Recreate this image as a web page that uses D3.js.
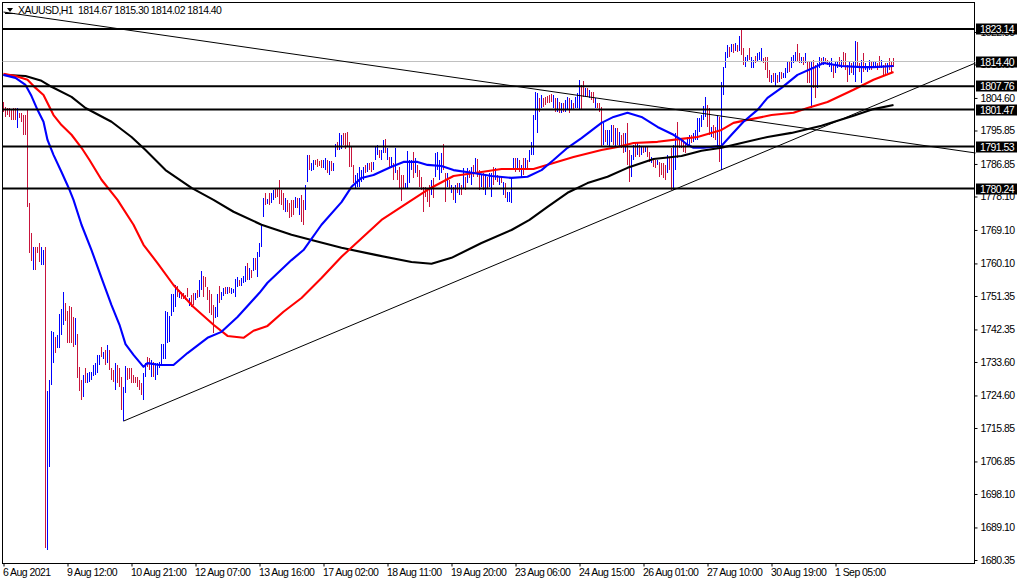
<!DOCTYPE html>
<html>
<head>
<meta charset="utf-8">
<title>XAUUSD,H1</title>
<script src="https://cdnjs.cloudflare.com/ajax/libs/d3/7.8.5/d3.min.js"></script>
<style>
  html, body { margin: 0; padding: 0; background: #fff; }
  svg { display: block; }
  text { font-family: "Liberation Sans", Arial, sans-serif; font-size: 10.5px; letter-spacing: -0.55px; }
</style>
</head>
<body>
<div id="chart"></div>
<script>
const title = 'XAUUSD,H1  1814.67 1815.30 1814.02 1814.40';

const barHighs = [
  1803.5,1802.2,1801.9,1801.9,1801.4,1801.9,1801.9,1801.9,1800.6,1800.6,
  1800.0,1800.0,1801.4,1776.4,1768.3,1764.5,1764.5,1764.5,1765.6,1764.5,
  1763.7,1764.5,1725.8,1728.8,1742.0,1741.7,1740.3,1740.9,1746.5,1747.9,
  1752.4,1749.5,1747.3,1748.7,1748.4,1745.7,1745.5,1741.1,1732.3,1728.8,
  1730.1,1732.0,1730.7,1731.0,1731.0,1732.8,1733.4,1735.5,1735.5,1737.6,
  1736.3,1736.8,1738.2,1736.8,1732.0,1731.5,1733.4,1732.8,1732.0,1729.6,
  1726.9,1732.5,1732.0,1732.0,1732.0,1730.1,1729.6,1729.6,1728.8,1728.0,
  1730.7,1733.4,1735.0,1734.7,1734.1,1733.6,1733.4,1733.4,1733.6,1738.4,
  1738.4,1747.3,1747.1,1746.0,1751.9,1751.9,1754.3,1754.0,1753.0,1752.4,
  1752.2,1751.6,1753.5,1750.8,1751.6,1752.2,1752.2,1753.0,1755.7,1758.1,
  1756.8,1756.5,1753.8,1753.0,1751.9,1749.0,1748.4,1751.9,1754.0,1752.4,
  1753.5,1753.8,1753.8,1753.8,1753.5,1753.2,1755.9,1756.5,1755.7,1756.2,
  1756.8,1759.4,1760.2,1758.9,1758.4,1761.6,1761.6,1763.2,1765.6,1770.5,
  1777.7,1779.1,1777.5,1779.1,1779.1,1779.9,1780.4,1780.4,1782.6,1779.9,
  1779.1,1777.7,1777.2,1776.4,1777.2,1777.2,1778.0,1777.7,1777.7,1778.6,
  1777.2,1781.2,1789.3,1789.3,1787.1,1787.9,1787.9,1788.2,1787.7,1787.9,
  1787.9,1788.5,1787.9,1787.7,1787.7,1787.1,1792.2,1792.8,1795.2,1794.7,
  1795.2,1795.2,1795.5,1792.8,1791.4,1786.6,1783.9,1784.4,1786.1,1785.2,
  1786.1,1786.6,1787.1,1787.1,1787.4,1787.4,1791.4,1792.0,1790.6,1790.6,
  1793.3,1793.6,1791.2,1788.7,1788.7,1787.1,1791.2,1785.2,1786.1,1783.9,
  1783.9,1781.8,1790.4,1787.9,1787.9,1790.1,1788.5,1786.6,1785.2,1783.4,
  1780.7,1780.7,1780.4,1781.2,1782.6,1783.1,1789.8,1790.1,1787.9,1789.8,
  1792.2,1784.4,1784.4,1782.6,1781.2,1780.7,1781.2,1781.8,1781.8,1781.2,
  1785.8,1783.4,1785.8,1785.2,1786.1,1786.6,1788.5,1788.2,1785.2,1783.9,
  1784.4,1783.9,1783.4,1784.4,1784.4,1786.1,1785.8,1783.9,1783.4,1783.4,
  1782.0,1781.8,1779.3,1779.3,1783.4,1788.5,1788.5,1788.5,1787.9,1786.6,
  1788.5,1788.5,1787.9,1790.6,1792.8,1800.0,1806.2,1806.0,1804.6,1805.4,
  1804.6,1804.9,1805.1,1805.4,1805.7,1805.4,1804.6,1804.6,1803.5,1803.3,
  1803.3,1804.1,1804.9,1804.6,1804.1,1803.3,1804.9,1806.0,1809.5,1808.1,
  1809.2,1807.3,1807.3,1806.8,1806.2,1806.2,1804.6,1803.3,1803.3,1802.2,
  1797.9,1796.0,1796.0,1796.0,1797.4,1797.4,1796.5,1796.5,1795.5,1794.7,
  1795.2,1795.2,1797.9,1790.6,1789.3,1792.0,1792.8,1792.5,1792.0,1791.4,
  1791.4,1791.4,1791.4,1790.1,1788.7,1788.5,1787.9,1787.9,1787.4,1787.1,
  1787.1,1786.6,1789.3,1788.5,1791.2,1792.0,1795.2,1798.2,1793.9,1793.9,
  1793.3,1792.8,1794.1,1794.7,1794.7,1795.2,1796.0,1799.2,1799.2,1800.0,
  1802.5,1804.9,1802.7,1801.9,1796.8,1797.4,1796.8,1800.0,1799.5,1808.9,
  1813.0,1817.0,1818.9,1818.3,1819.1,1819.1,1819.4,1818.9,1821.3,1822.9,
  1818.1,1815.6,1816.2,1818.1,1815.6,1814.8,1815.9,1816.7,1817.0,1818.1,
  1815.4,1815.6,1815.6,1812.1,1810.8,1811.3,1811.3,1810.8,1811.6,1811.6,
  1811.3,1812.7,1814.3,1814.3,1815.6,1816.2,1817.0,1819.1,1816.7,1815.6,
  1815.6,1816.7,1814.6,1814.3,1814.3,1814.8,1813.5,1814.0,1815.6,1815.4,
  1815.6,1815.4,1814.8,1814.3,1815.4,1813.5,1814.3,1814.3,1815.6,1814.8,
  1817.0,1816.7,1813.5,1814.3,1814.0,1814.3,1820.0,1819.7,1814.0,1814.8,
  1816.7,1814.0,1813.0,1814.8,1814.3,1814.3,1814.3,1814.0,1815.9,1814.8,
  1813.5,1814.0,1814.0,1815.4,1814.3,1815.4
];

const barLows = [
  1800.9,1799.5,1800.0,1799.5,1798.7,1798.7,1798.7,1796.5,1799.2,1798.2,
  1794.7,1794.7,1775.3,1762.9,1760.8,1758.4,1758.4,1762.9,1760.5,1759.7,
  1759.7,1683.6,1683.0,1705.4,1727.4,1733.4,1736.0,1737.4,1737.4,1740.9,
  1743.6,1744.6,1738.7,1738.7,1738.7,1737.6,1738.2,1729.3,1725.8,1723.4,
  1724.2,1728.0,1728.0,1728.2,1728.8,1729.9,1730.1,1730.7,1732.8,1735.0,
  1734.4,1732.8,1733.4,1731.5,1728.8,1728.2,1726.1,1728.0,1726.9,1720.7,
  1717.7,1725.3,1728.8,1729.0,1728.0,1728.0,1728.0,1726.9,1726.1,1724.7,
  1723.4,1729.6,1732.3,1731.5,1729.6,1729.6,1728.8,1730.1,1732.0,1732.8,
  1734.4,1734.4,1738.7,1739.0,1746.0,1747.1,1748.4,1751.1,1750.8,1750.6,
  1750.6,1750.3,1751.1,1748.7,1748.4,1749.0,1750.3,1750.8,1751.1,1753.0,
  1751.1,1753.8,1750.3,1746.8,1746.3,1741.4,1745.5,1745.7,1749.5,1750.3,
  1751.4,1751.9,1751.9,1752.2,1751.9,1752.2,1751.1,1753.8,1754.0,1754.0,
  1754.9,1755.1,1755.7,1755.7,1756.2,1758.1,1758.4,1756.5,1761.9,1764.5,
  1772.6,1775.8,1776.1,1775.8,1776.4,1777.2,1777.7,1778.0,1776.1,1775.8,
  1774.5,1774.0,1774.0,1772.3,1772.6,1773.2,1775.0,1775.0,1773.2,1771.3,
  1770.5,1774.5,1782.0,1785.2,1785.0,1785.2,1786.6,1786.1,1786.3,1785.8,
  1785.8,1785.2,1784.4,1783.9,1785.0,1785.0,1788.7,1790.6,1790.6,1790.9,
  1792.0,1790.9,1791.4,1786.1,1786.1,1781.8,1780.4,1780.7,1780.7,1782.0,
  1782.6,1784.4,1784.7,1785.2,1784.7,1785.2,1787.9,1789.3,1788.5,1787.9,
  1789.8,1789.8,1787.9,1786.1,1785.8,1782.6,1784.4,1782.6,1780.4,1777.0,
  1780.4,1780.4,1780.4,1781.8,1785.2,1783.1,1784.4,1783.4,1780.7,1779.9,
  1774.0,1778.0,1776.6,1775.3,1778.6,1777.7,1783.4,1785.2,1782.6,1784.4,
  1785.2,1776.6,1780.7,1780.4,1779.1,1777.2,1776.4,1779.1,1778.6,1778.6,
  1780.4,1779.9,1781.8,1783.1,1781.2,1783.4,1784.4,1783.4,1779.9,1780.7,
  1779.9,1778.6,1780.4,1780.7,1778.0,1781.2,1782.6,1782.0,1781.2,1781.8,
  1778.6,1777.7,1776.6,1776.6,1776.4,1785.2,1784.7,1785.2,1784.7,1783.4,
  1783.9,1785.2,1785.2,1787.4,1789.3,1789.3,1798.7,1795.2,1800.9,1801.9,
  1802.2,1802.7,1803.3,1803.3,1803.5,1801.9,1800.9,1800.9,1800.6,1800.6,
  1800.9,1800.9,1801.4,1800.6,1801.4,1801.4,1801.9,1801.9,1801.4,1801.4,
  1804.9,1804.9,1804.9,1804.6,1804.1,1803.3,1801.9,1801.9,1800.9,1791.4,
  1792.0,1792.8,1792.0,1791.4,1792.8,1792.0,1791.4,1792.0,1791.4,1791.2,
  1789.8,1790.1,1786.6,1782.0,1783.4,1787.9,1788.7,1789.3,1788.7,1789.3,
  1789.8,1790.1,1788.7,1787.4,1787.1,1786.1,1785.8,1786.6,1783.4,1783.9,
  1783.1,1782.6,1784.4,1785.2,1779.9,1779.9,1785.2,1788.5,1791.2,1791.2,
  1790.1,1789.8,1791.4,1792.0,1792.5,1792.8,1793.3,1793.3,1795.5,1796.8,
  1798.7,1799.5,1796.8,1794.7,1794.1,1793.9,1793.3,1791.2,1787.4,1785.2,
  1805.4,1812.7,1815.4,1815.6,1817.0,1816.7,1817.3,1817.0,1817.3,1816.2,
  1813.5,1813.0,1814.3,1814.8,1812.7,1812.7,1814.0,1814.3,1814.8,1814.3,
  1814.0,1812.1,1810.0,1808.9,1808.6,1808.9,1807.6,1808.6,1808.9,1809.7,
  1810.0,1810.0,1811.3,1811.6,1812.7,1814.0,1814.3,1814.3,1814.0,1814.0,
  1813.5,1814.0,1808.6,1808.6,1801.9,1807.3,1804.6,1807.3,1812.7,1813.5,
  1813.5,1814.0,1813.5,1813.0,1811.6,1810.0,1811.3,1812.7,1813.0,1812.7,
  1813.0,1812.1,1808.9,1810.8,1811.3,1810.8,1808.9,1812.7,1811.6,1808.6,
  1811.6,1812.1,1811.6,1812.1,1812.1,1812.7,1813.0,1812.1,1812.7,1812.7,
  1810.8,1810.8,1811.3,1812.1,1811.6,1813.0
];

// u = up bar, d = down bar
const barDirs = [
  'dddddddudd','dddddudddu','uduuuuduuu','uddddduddd','uduuuuuuud',
  'ududdduddd','uudddddddd','uudduduuuu','uuuuuuudud','dddudduduu',
  'dddddduudu','ududuuuudu','uudududuuu','ududuudddd','duddddudud',
  'duuduudddd','uududuuduu','dddddduuuu','ududduuudu','ududududdd',
  'duuuududdd','dddduduuuu','ddudududud','ududududdu','duduududud',
  'uduuuududu','duduuuuudu','dddddududu','duududuuud','dududduddd',
  'uduuududud','dudduududu','dudduddudd','ddudduuddd','dduuduuuuu',
  'uudduddudu','uuudududud','duuduuduuu','ddddududud','uuuduuuddu',
  'duddudduud','udduuduudu','ddduduuddu','duuuduuddu','dduddd'
].join('');

const fastBars = [0,6,11,14,17,20,22,25,29,33,35,39,44,49,54,58,61,65,70,72,78,85,92,102,109,117,128,132,144,150,159,169,174,179,185,194,200,207,212,219,225,235,244,254,262,269,275,282,289,299,305,312,319,327,335,339,342,345,350,359,364,370,377,382,389,397,405,410,419,429,435,445];
const fastMa = [1810.8,1810.0,1808.1,1805.1,1801.4,1798.2,1793.3,1789.3,1784.7,1779.9,1777.2,1770.5,1763.7,1756.2,1748.9,1743.6,1738.4,1735.5,1732.3,1733.3,1732.8,1732.8,1736.0,1740.1,1741.7,1745.7,1752.2,1754.9,1761.0,1763.7,1770.5,1776.6,1780.7,1783.1,1783.9,1786.1,1787.4,1787.4,1786.6,1786.3,1785.2,1784.4,1783.6,1783.1,1783.4,1785.2,1787.9,1791.2,1793.8,1797.9,1799.5,1800.6,1799.5,1796.8,1794.7,1793.3,1792.0,1791.2,1791.2,1791.7,1794.7,1798.2,1801.4,1804.6,1807.3,1810.8,1812.7,1814.0,1813.2,1812.9,1812.9,1813.2];

const midBars = [0,6,12,16,20,25,29,34,39,43,49,57,65,70,77,85,95,105,112,120,125,132,140,149,159,169,189,202,212,225,239,249,265,275,285,299,307,315,327,339,347,359,365,372,384,395,402,412,425,435,445];
const midMa = [1811.1,1810.5,1809.5,1807.3,1805.4,1800.0,1797.3,1794.7,1791.2,1787.9,1782.6,1777.2,1770.5,1765.1,1760.2,1754.3,1748.4,1743.6,1740.6,1740.1,1742.0,1743.3,1747.1,1750.8,1756.2,1761.9,1771.8,1776.4,1779.9,1783.6,1784.7,1785.5,1785.5,1787.1,1788.7,1790.6,1791.4,1792.5,1792.8,1793.6,1794.1,1796.0,1797.9,1798.7,1800.0,1800.6,1801.9,1803.5,1806.8,1809.5,1811.6];

const slowBars = [0,11,19,24,34,41,54,64,71,81,94,105,115,129,144,154,169,186,204,214,224,239,254,263,272,282,292,302,312,325,339,349,359,369,382,394,409,425,435,445];
const slowMa = [1810.8,1810.5,1809.2,1807.6,1804.9,1801.9,1798.2,1794.1,1790.6,1785.2,1780.4,1777.2,1774.0,1770.5,1767.8,1766.4,1764.3,1762.4,1760.5,1760.0,1761.6,1765.6,1769.1,1771.8,1775.3,1779.1,1781.7,1783.4,1785.8,1788.2,1789.0,1790.4,1791.2,1792.5,1794.1,1795.2,1797.1,1799.8,1801.6,1802.7];

const levels = [1823.14, 1807.76, 1801.47, 1791.53, 1780.24];
const bidPrice = 1814.40;
const priceTicks = [1680.35,1689.10,1698.10,1706.85,1715.85,1724.60,1733.60,1742.35,1751.35,1760.10,1769.10,1778.10,1786.85,1795.85,1804.60,1813.60,1822.35];

const timeTickBars = [0,32,64,96,128,160,192,224,256,288,320,352,384,416];
const timeLabels = ['6 Aug 2021','9 Aug 12:00','10 Aug 21:00','12 Aug 07:00','13 Aug 16:00','17 Aug 02:00','18 Aug 11:00','19 Aug 20:00','23 Aug 06:00','24 Aug 15:00','26 Aug 01:00','27 Aug 10:00','30 Aug 19:00','1 Sep 05:00'];

// trend lines, end points as [bar, price]
const fallingTrend = [[0, 1827.7], [486, 1789.8]];
const risingTrend = [[60, 1717.7], [486, 1814.0]];

const width = 1020;
const height = 584;
const frame = { left: 2.5, right: 974.5, top: 2.5, bottom: 563.5 };

const x = d3.scaleLinear().domain([0, 486]).range([3.5, 975.5]);
const y = d3.scaleLinear().domain([1680.35, 1823.14]).range([560, 29]);

const svg = d3.select('#chart').append('svg')
  .attr('width', width)
  .attr('height', height);

svg.append('rect')
  .attr('x', frame.left).attr('y', frame.top)
  .attr('width', frame.right - frame.left)
  .attr('height', frame.bottom - frame.top)
  .attr('fill', '#fff')
  .attr('stroke', '#000');

// price bars
svg.append('g').attr('shape-rendering', 'crispEdges')
  .selectAll('line')
  .data(barHighs)
  .enter()
  .append('line')
  .attr('x1', (d, i) => x(i))
  .attr('x2', (d, i) => x(i))
  .attr('y1', (d) => y(d))
  .attr('y2', (d, i) => y(barLows[i]))
  .attr('stroke', (d, i) => barDirs[i] === 'u' ? '#0000ff' : '#c8143c');

// silver bid line under everything else
svg.append('line')
  .attr('x1', frame.left).attr('x2', frame.right)
  .attr('y1', y(bidPrice)).attr('y2', y(bidPrice))
  .attr('stroke', '#c0c0c0');

const maLine = d3.line();
const drawMa = (bars, values, color) => {
  svg.append('path')
    .attr('d', maLine(bars.map((b, i) => [x(b), y(values[i])])))
    .attr('fill', 'none')
    .attr('stroke', color)
    .attr('stroke-width', 2.1)
    .attr('stroke-linejoin', 'round');
};
drawMa(slowBars, slowMa, '#000');
drawMa(midBars, midMa, '#ff0000');
drawMa(fastBars, fastMa, '#0000ff');

[fallingTrend, risingTrend].forEach((t) => {
  svg.append('path')
    .attr('d', maLine(t.map((p) => [x(p[0]), y(p[1])])))
    .attr('fill', 'none')
    .attr('stroke', '#000')
    .attr('stroke-width', 1);
});

svg.append('g').selectAll('line')
  .data(levels)
  .enter()
  .append('line')
  .attr('x1', frame.left).attr('x2', frame.right)
  .attr('y1', (d) => y(d)).attr('y2', (d) => y(d))
  .attr('stroke', '#000')
  .attr('stroke-width', 2);

// axes
const yAxis = d3.axisRight(y)
  .tickValues(priceTicks)
  .tickSize(3)
  .tickPadding(3)
  .tickFormat(d3.format('.2f'));

const yG = svg.append('g')
  .attr('transform', 'translate(' + frame.right + ',0)')
  .call(yAxis);
yG.select('.domain').remove();
yG.attr('font-family', null).attr('font-size', null);
yG.selectAll('text').attr('fill', '#000');

const xAxis = d3.axisBottom(x)
  .tickValues(timeTickBars)
  .tickSize(3)
  .tickPadding(2)
  .tickFormat((d, i) => timeLabels[i]);

const xG = svg.append('g')
  .attr('transform', 'translate(0,' + frame.bottom + ')')
  .call(xAxis);
xG.select('.domain').remove();
xG.attr('font-family', null).attr('font-size', null);
xG.selectAll('text').attr('text-anchor', 'start').attr('dx', -1).attr('fill', '#000');

// price tags on the right
const tags = svg.append('g').selectAll('g')
  .data(levels.concat([bidPrice]))
  .enter()
  .append('g')
  .attr('transform', (d) => 'translate(976,' + Math.round(y(d)) + ')');
tags.append('rect')
  .attr('x', 0).attr('y', -5.5)
  .attr('width', 41).attr('height', 11)
  .attr('fill', '#000');
tags.append('text')
  .attr('x', 4).attr('y', 4)
  .attr('fill', '#fff')
  .text((d) => d.toFixed(2));

// header
svg.append('path').attr('d', d3.line()([[7, 8], [13, 8], [10, 12]]) + 'Z').attr('fill', '#000');
svg.append('line').attr('x1', 5).attr('x2', 15).attr('y1', 13.5).attr('y2', 13.5).attr('stroke', '#000');
svg.append('text')
  .attr('x', 18).attr('y', 14)
  .attr('fill', '#000')
  .style('white-space', 'pre')
  .text(title);
</script>
</body>
</html>
